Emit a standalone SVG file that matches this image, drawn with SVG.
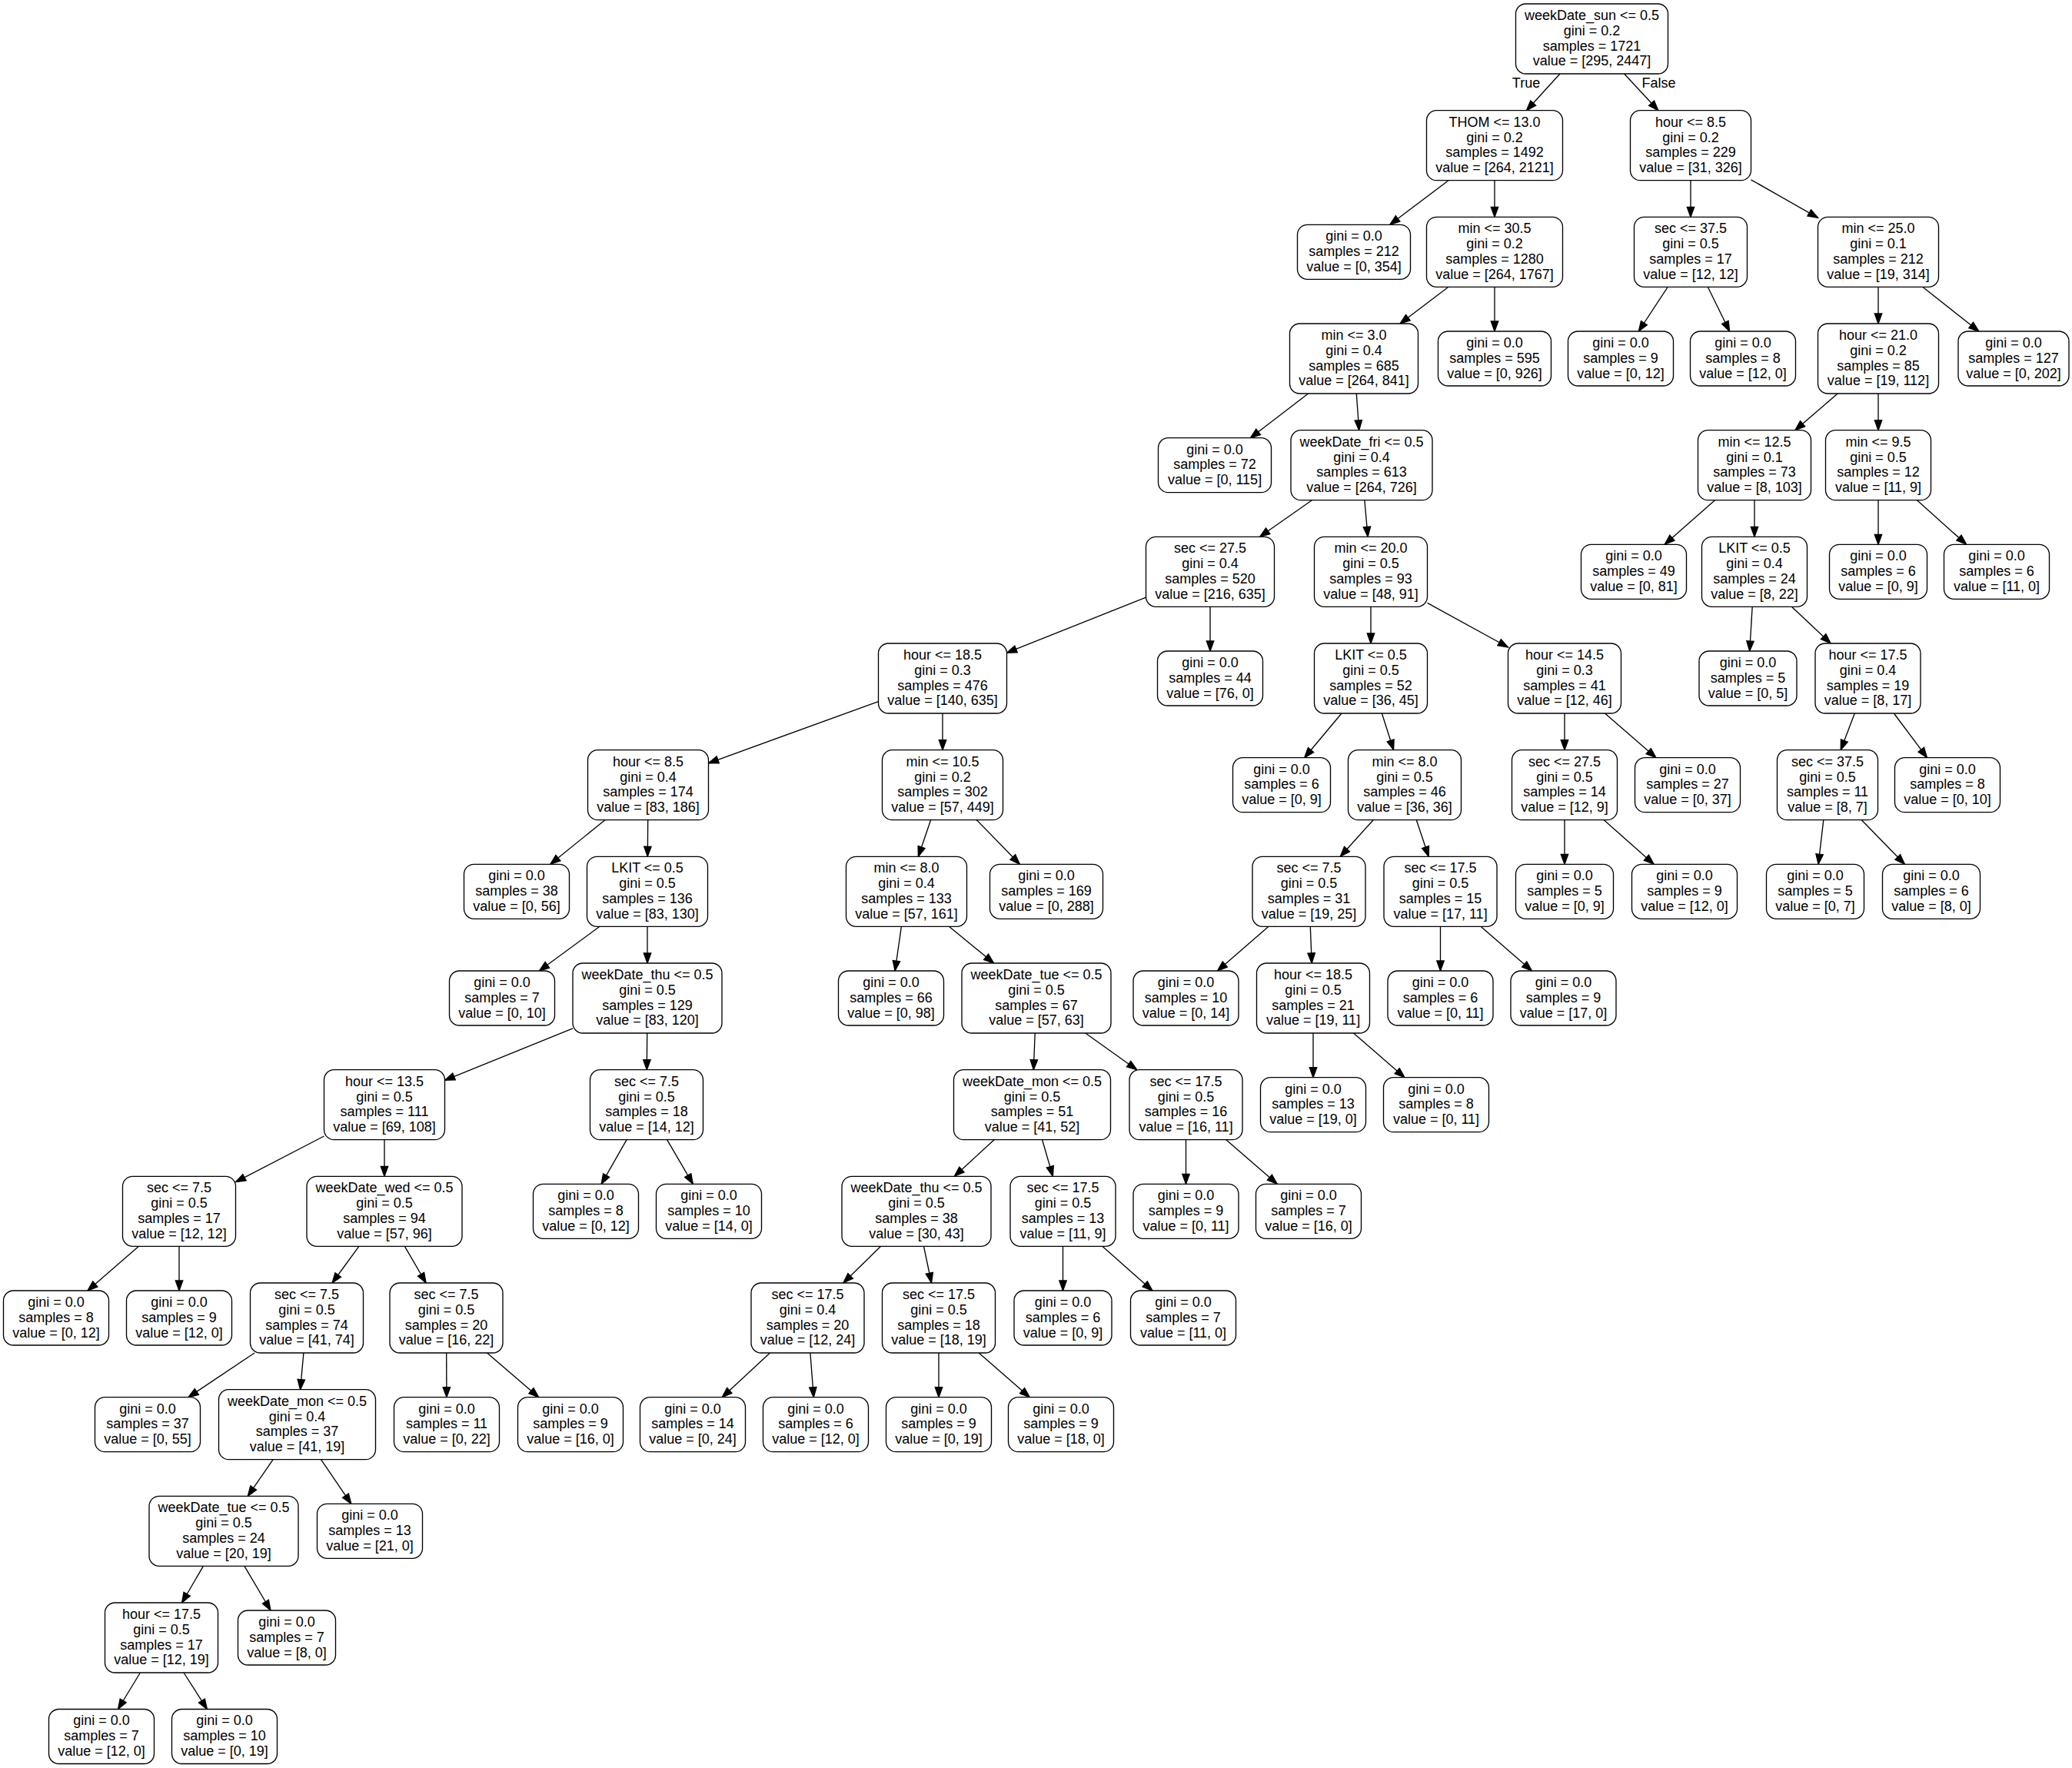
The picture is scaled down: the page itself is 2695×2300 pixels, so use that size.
<svg xmlns="http://www.w3.org/2000/svg" width="2695" height="2300" viewBox="0 0 2695 2300">
<style>
.nd rect{fill:#fff;stroke:#000;stroke-width:1.33;rx:13px;ry:13px}
text{font-family:"Liberation Sans",Arial,Helvetica,sans-serif;font-size:18px;text-anchor:middle;fill:#000}
.e line{stroke:#000;stroke-width:1.33;marker-end:url(#arr)}
</style>
<defs>
<marker id="arr" markerWidth="16" markerHeight="12" refX="14" refY="5.7" orient="auto" markerUnits="userSpaceOnUse">
<path d="M1,1 L14,5.7 L1,10.4 z" fill="#000" stroke="#000" stroke-width="1.33"/>
</marker>
</defs>
<rect width="2695" height="2300" fill="#fff"/>
<g id="edges" class="e">
<line x1="2029" y1="96" x2="1985.5" y2="143.7"/>
<line x1="2112.6" y1="96" x2="2156.9" y2="143.7"/>
<line x1="1884" y1="234.7" x2="1807.8" y2="292.3"/>
<line x1="1944" y1="234.7" x2="1944" y2="282.3"/>
<line x1="2199" y1="234.7" x2="2199" y2="282.3"/>
<line x1="2277.5" y1="233.8" x2="2364.5" y2="283.3"/>
<line x1="1884" y1="373.3" x2="1821" y2="421"/>
<line x1="1944" y1="373.3" x2="1944" y2="431"/>
<line x1="2169.2" y1="373.3" x2="2131.3" y2="431"/>
<line x1="2221.3" y1="373.3" x2="2249.6" y2="431"/>
<line x1="2443" y1="373.3" x2="2443" y2="421"/>
<line x1="2500.7" y1="373.3" x2="2573.9" y2="431"/>
<line x1="1701.6" y1="512" x2="1626.3" y2="569.7"/>
<line x1="1764.3" y1="512" x2="1767.7" y2="559.7"/>
<line x1="2390.2" y1="512" x2="2334.8" y2="559.7"/>
<line x1="2443" y1="512" x2="2443" y2="559.7"/>
<line x1="1706.4" y1="650.7" x2="1638.6" y2="698.3"/>
<line x1="1774.9" y1="650.7" x2="1779.1" y2="698.3"/>
<line x1="2230.5" y1="650.7" x2="2165.2" y2="708.3"/>
<line x1="2282" y1="650.7" x2="2282" y2="698.3"/>
<line x1="2443" y1="650.7" x2="2443" y2="708.3"/>
<line x1="2493.5" y1="650.7" x2="2557.6" y2="708.3"/>
<line x1="1490.5" y1="777.1" x2="1309.5" y2="849.2"/>
<line x1="1574" y1="789.3" x2="1574" y2="847"/>
<line x1="1783" y1="789.3" x2="1783" y2="837"/>
<line x1="1856.5" y1="784.3" x2="1961.5" y2="842"/>
<line x1="2279.2" y1="789.3" x2="2275.7" y2="847"/>
<line x1="2330.4" y1="789.3" x2="2381.1" y2="837"/>
<line x1="1142.5" y1="912.7" x2="921.5" y2="992.8"/>
<line x1="1226" y1="928" x2="1226" y2="975.7"/>
<line x1="1745" y1="928" x2="1696.7" y2="985.7"/>
<line x1="1797.4" y1="928" x2="1812.6" y2="975.7"/>
<line x1="2035" y1="928" x2="2035" y2="975.7"/>
<line x1="2087.5" y1="928" x2="2154" y2="985.7"/>
<line x1="2412.3" y1="928" x2="2394.2" y2="975.7"/>
<line x1="2463.4" y1="928" x2="2506.5" y2="985.7"/>
<line x1="786.9" y1="1066.7" x2="715.8" y2="1124.3"/>
<line x1="842.7" y1="1066.7" x2="842.3" y2="1114.3"/>
<line x1="1210.6" y1="1066.7" x2="1194.4" y2="1114.3"/>
<line x1="1270.3" y1="1066.7" x2="1326.4" y2="1124.3"/>
<line x1="1786.2" y1="1066.7" x2="1743.3" y2="1114.3"/>
<line x1="1842.3" y1="1066.7" x2="1858.2" y2="1114.3"/>
<line x1="2035" y1="1066.7" x2="2035" y2="1124.3"/>
<line x1="2086.2" y1="1066.7" x2="2151.1" y2="1124.3"/>
<line x1="2371.8" y1="1066.7" x2="2365.1" y2="1124.3"/>
<line x1="2421.3" y1="1066.7" x2="2477.4" y2="1124.3"/>
<line x1="780" y1="1205.3" x2="701.4" y2="1263"/>
<line x1="842" y1="1205.3" x2="842" y2="1253"/>
<line x1="1172.4" y1="1205.3" x2="1164.1" y2="1263"/>
<line x1="1234.4" y1="1205.3" x2="1292.6" y2="1253"/>
<line x1="1650" y1="1205.3" x2="1583.5" y2="1263"/>
<line x1="1704.3" y1="1205.3" x2="1706.2" y2="1253"/>
<line x1="1873.5" y1="1205.3" x2="1873.5" y2="1263"/>
<line x1="1926" y1="1205.3" x2="1992.5" y2="1263"/>
<line x1="745" y1="1337.8" x2="578.5" y2="1405.3"/>
<line x1="841.7" y1="1344" x2="841.3" y2="1391.7"/>
<line x1="1346.2" y1="1344" x2="1344.3" y2="1391.7"/>
<line x1="1411.8" y1="1344" x2="1478.7" y2="1391.7"/>
<line x1="1708" y1="1344" x2="1708" y2="1401.7"/>
<line x1="1760.5" y1="1344" x2="1827" y2="1401.7"/>
<line x1="421.5" y1="1478" x2="306.5" y2="1537.7"/>
<line x1="500" y1="1482.7" x2="500" y2="1530.3"/>
<line x1="815.1" y1="1482.7" x2="782.2" y2="1540.3"/>
<line x1="867.6" y1="1482.7" x2="901.3" y2="1540.3"/>
<line x1="1293.1" y1="1482.7" x2="1241.4" y2="1530.3"/>
<line x1="1355.6" y1="1482.7" x2="1369.4" y2="1530.3"/>
<line x1="1542.5" y1="1482.7" x2="1542.5" y2="1540.3"/>
<line x1="1594.8" y1="1482.7" x2="1661.2" y2="1540.3"/>
<line x1="180.5" y1="1621.3" x2="114" y2="1679"/>
<line x1="233" y1="1621.3" x2="233" y2="1679"/>
<line x1="466.9" y1="1621.3" x2="432.1" y2="1669"/>
<line x1="526.4" y1="1621.3" x2="554.1" y2="1669"/>
<line x1="1145.6" y1="1621.3" x2="1096.9" y2="1669"/>
<line x1="1201.5" y1="1621.3" x2="1211.5" y2="1669"/>
<line x1="1382.5" y1="1621.3" x2="1382.5" y2="1679"/>
<line x1="1433.8" y1="1621.3" x2="1498.9" y2="1679"/>
<line x1="331.1" y1="1760" x2="245" y2="1817.7"/>
<line x1="394.9" y1="1760" x2="390.6" y2="1807.7"/>
<line x1="580.7" y1="1760" x2="580.9" y2="1817.7"/>
<line x1="633.5" y1="1760" x2="700.7" y2="1817.7"/>
<line x1="1001.5" y1="1760" x2="939.3" y2="1817.7"/>
<line x1="1053.9" y1="1760" x2="1058.3" y2="1817.7"/>
<line x1="1221" y1="1760" x2="1221" y2="1817.7"/>
<line x1="1273.2" y1="1760" x2="1339.3" y2="1817.7"/>
<line x1="355.2" y1="1898.7" x2="322.3" y2="1946.3"/>
<line x1="417.5" y1="1898.7" x2="456.8" y2="1956.3"/>
<line x1="264.4" y1="2037.3" x2="236.6" y2="2085"/>
<line x1="317.9" y1="2037.3" x2="352" y2="2095"/>
<line x1="182.4" y1="2176" x2="153.5" y2="2223.5"/>
<line x1="239" y1="2176" x2="269.4" y2="2223.5"/>
<text x="1985" y="114">True</text>
<text x="2157.5" y="114">False</text>
</g>
<g class="nd">
<g id="n0" transform="translate(2070.5,50.5)"><rect x="-99" y="-45.5" width="198" height="91"/><text y="-24.5">weekDate_sun &lt;= 0.5</text><text y="-4.7">gini = 0.2</text><text y="15.1">samples = 1721</text><text y="34.9">value = [295, 2447]</text></g>
<g id="n1" transform="translate(1944,189.2)"><rect x="-88.5" y="-45.5" width="177" height="91"/><text y="-24.5">THOM &lt;= 13.0</text><text y="-4.7">gini = 0.2</text><text y="15.1">samples = 1492</text><text y="34.9">value = [264, 2121]</text></g>
<g id="n2" transform="translate(2199,189.2)"><rect x="-78.5" y="-45.5" width="157" height="91"/><text y="-24.5">hour &lt;= 8.5</text><text y="-4.7">gini = 0.2</text><text y="15.1">samples = 229</text><text y="34.9">value = [31, 326]</text></g>
<g id="n3" transform="translate(1761,327.8)"><rect x="-73.5" y="-35.5" width="147" height="71"/><text y="-14.6">gini = 0.0</text><text y="5.2">samples = 212</text><text y="25">value = [0, 354]</text></g>
<g id="n4" transform="translate(1944,327.8)"><rect x="-88.5" y="-45.5" width="177" height="91"/><text y="-24.5">min &lt;= 30.5</text><text y="-4.7">gini = 0.2</text><text y="15.1">samples = 1280</text><text y="34.9">value = [264, 1767]</text></g>
<g id="n5" transform="translate(2199,327.8)"><rect x="-73.5" y="-45.5" width="147" height="91"/><text y="-24.5">sec &lt;= 37.5</text><text y="-4.7">gini = 0.5</text><text y="15.1">samples = 17</text><text y="34.9">value = [12, 12]</text></g>
<g id="n6" transform="translate(2443,327.8)"><rect x="-78.5" y="-45.5" width="157" height="91"/><text y="-24.5">min &lt;= 25.0</text><text y="-4.7">gini = 0.1</text><text y="15.1">samples = 212</text><text y="34.9">value = [19, 314]</text></g>
<g id="n7" transform="translate(1761,466.5)"><rect x="-83.5" y="-45.5" width="167" height="91"/><text y="-24.5">min &lt;= 3.0</text><text y="-4.7">gini = 0.4</text><text y="15.1">samples = 685</text><text y="34.9">value = [264, 841]</text></g>
<g id="n8" transform="translate(1944,466.5)"><rect x="-73.5" y="-35.5" width="147" height="71"/><text y="-14.6">gini = 0.0</text><text y="5.2">samples = 595</text><text y="25">value = [0, 926]</text></g>
<g id="n9" transform="translate(2108,466.5)"><rect x="-68.5" y="-35.5" width="137" height="71"/><text y="-14.6">gini = 0.0</text><text y="5.2">samples = 9</text><text y="25">value = [0, 12]</text></g>
<g id="n10" transform="translate(2267,466.5)"><rect x="-68.5" y="-35.5" width="137" height="71"/><text y="-14.6">gini = 0.0</text><text y="5.2">samples = 8</text><text y="25">value = [12, 0]</text></g>
<g id="n11" transform="translate(2443,466.5)"><rect x="-78.5" y="-45.5" width="157" height="91"/><text y="-24.5">hour &lt;= 21.0</text><text y="-4.7">gini = 0.2</text><text y="15.1">samples = 85</text><text y="34.9">value = [19, 112]</text></g>
<g id="n12" transform="translate(2619,466.5)"><rect x="-72" y="-35.5" width="144" height="71"/><text y="-14.6">gini = 0.0</text><text y="5.2">samples = 127</text><text y="25">value = [0, 202]</text></g>
<g id="n13" transform="translate(1580,605.2)"><rect x="-73.5" y="-35.5" width="147" height="71"/><text y="-14.6">gini = 0.0</text><text y="5.2">samples = 72</text><text y="25">value = [0, 115]</text></g>
<g id="n14" transform="translate(1771,605.2)"><rect x="-92" y="-45.5" width="184" height="91"/><text y="-24.5">weekDate_fri &lt;= 0.5</text><text y="-4.7">gini = 0.4</text><text y="15.1">samples = 613</text><text y="34.9">value = [264, 726]</text></g>
<g id="n15" transform="translate(2282,605.2)"><rect x="-73.5" y="-45.5" width="147" height="91"/><text y="-24.5">min &lt;= 12.5</text><text y="-4.7">gini = 0.1</text><text y="15.1">samples = 73</text><text y="34.9">value = [8, 103]</text></g>
<g id="n16" transform="translate(2443,605.2)"><rect x="-68.5" y="-45.5" width="137" height="91"/><text y="-24.5">min &lt;= 9.5</text><text y="-4.7">gini = 0.5</text><text y="15.1">samples = 12</text><text y="34.9">value = [11, 9]</text></g>
<g id="n17" transform="translate(1574,743.8)"><rect x="-83.5" y="-45.5" width="167" height="91"/><text y="-24.5">sec &lt;= 27.5</text><text y="-4.7">gini = 0.4</text><text y="15.1">samples = 520</text><text y="34.9">value = [216, 635]</text></g>
<g id="n18" transform="translate(1783,743.8)"><rect x="-73.5" y="-45.5" width="147" height="91"/><text y="-24.5">min &lt;= 20.0</text><text y="-4.7">gini = 0.5</text><text y="15.1">samples = 93</text><text y="34.9">value = [48, 91]</text></g>
<g id="n19" transform="translate(2125,743.8)"><rect x="-68.5" y="-35.5" width="137" height="71"/><text y="-14.6">gini = 0.0</text><text y="5.2">samples = 49</text><text y="25">value = [0, 81]</text></g>
<g id="n20" transform="translate(2282,743.8)"><rect x="-68.5" y="-45.5" width="137" height="91"/><text y="-24.5">LKIT &lt;= 0.5</text><text y="-4.7">gini = 0.4</text><text y="15.1">samples = 24</text><text y="34.9">value = [8, 22]</text></g>
<g id="n21" transform="translate(2443,743.8)"><rect x="-63.5" y="-35.5" width="127" height="71"/><text y="-14.6">gini = 0.0</text><text y="5.2">samples = 6</text><text y="25">value = [0, 9]</text></g>
<g id="n22" transform="translate(2597,743.8)"><rect x="-68.5" y="-35.5" width="137" height="71"/><text y="-14.6">gini = 0.0</text><text y="5.2">samples = 6</text><text y="25">value = [11, 0]</text></g>
<g id="n23" transform="translate(1226,882.5)"><rect x="-83.5" y="-45.5" width="167" height="91"/><text y="-24.5">hour &lt;= 18.5</text><text y="-4.7">gini = 0.3</text><text y="15.1">samples = 476</text><text y="34.9">value = [140, 635]</text></g>
<g id="n24" transform="translate(1574,882.5)"><rect x="-68.5" y="-35.5" width="137" height="71"/><text y="-14.6">gini = 0.0</text><text y="5.2">samples = 44</text><text y="25">value = [76, 0]</text></g>
<g id="n25" transform="translate(1783,882.5)"><rect x="-73.5" y="-45.5" width="147" height="91"/><text y="-24.5">LKIT &lt;= 0.5</text><text y="-4.7">gini = 0.5</text><text y="15.1">samples = 52</text><text y="34.9">value = [36, 45]</text></g>
<g id="n26" transform="translate(2035,882.5)"><rect x="-73.5" y="-45.5" width="147" height="91"/><text y="-24.5">hour &lt;= 14.5</text><text y="-4.7">gini = 0.3</text><text y="15.1">samples = 41</text><text y="34.9">value = [12, 46]</text></g>
<g id="n27" transform="translate(2273.5,882.5)"><rect x="-63.5" y="-35.5" width="127" height="71"/><text y="-14.6">gini = 0.0</text><text y="5.2">samples = 5</text><text y="25">value = [0, 5]</text></g>
<g id="n28" transform="translate(2429.5,882.5)"><rect x="-68.5" y="-45.5" width="137" height="91"/><text y="-24.5">hour &lt;= 17.5</text><text y="-4.7">gini = 0.4</text><text y="15.1">samples = 19</text><text y="34.9">value = [8, 17]</text></g>
<g id="n29" transform="translate(843,1021.2)"><rect x="-78.5" y="-45.5" width="157" height="91"/><text y="-24.5">hour &lt;= 8.5</text><text y="-4.7">gini = 0.4</text><text y="15.1">samples = 174</text><text y="34.9">value = [83, 186]</text></g>
<g id="n30" transform="translate(1226,1021.2)"><rect x="-78.5" y="-45.5" width="157" height="91"/><text y="-24.5">min &lt;= 10.5</text><text y="-4.7">gini = 0.2</text><text y="15.1">samples = 302</text><text y="34.9">value = [57, 449]</text></g>
<g id="n31" transform="translate(1667,1021.2)"><rect x="-63.5" y="-35.5" width="127" height="71"/><text y="-14.6">gini = 0.0</text><text y="5.2">samples = 6</text><text y="25">value = [0, 9]</text></g>
<g id="n32" transform="translate(1827,1021.2)"><rect x="-73.5" y="-45.5" width="147" height="91"/><text y="-24.5">min &lt;= 8.0</text><text y="-4.7">gini = 0.5</text><text y="15.1">samples = 46</text><text y="34.9">value = [36, 36]</text></g>
<g id="n33" transform="translate(2035,1021.2)"><rect x="-68.5" y="-45.5" width="137" height="91"/><text y="-24.5">sec &lt;= 27.5</text><text y="-4.7">gini = 0.5</text><text y="15.1">samples = 14</text><text y="34.9">value = [12, 9]</text></g>
<g id="n34" transform="translate(2195,1021.2)"><rect x="-68.5" y="-35.5" width="137" height="71"/><text y="-14.6">gini = 0.0</text><text y="5.2">samples = 27</text><text y="25">value = [0, 37]</text></g>
<g id="n35" transform="translate(2377,1021.2)"><rect x="-65.5" y="-45.5" width="131" height="91"/><text y="-24.5">sec &lt;= 37.5</text><text y="-4.7">gini = 0.5</text><text y="15.1">samples = 11</text><text y="34.9">value = [8, 7]</text></g>
<g id="n36" transform="translate(2533,1021.2)"><rect x="-68.5" y="-35.5" width="137" height="71"/><text y="-14.6">gini = 0.0</text><text y="5.2">samples = 8</text><text y="25">value = [0, 10]</text></g>
<g id="n37" transform="translate(672,1159.8)"><rect x="-68.5" y="-35.5" width="137" height="71"/><text y="-14.6">gini = 0.0</text><text y="5.2">samples = 38</text><text y="25">value = [0, 56]</text></g>
<g id="n38" transform="translate(842,1159.8)"><rect x="-78.5" y="-45.5" width="157" height="91"/><text y="-24.5">LKIT &lt;= 0.5</text><text y="-4.7">gini = 0.5</text><text y="15.1">samples = 136</text><text y="34.9">value = [83, 130]</text></g>
<g id="n39" transform="translate(1179,1159.8)"><rect x="-78.5" y="-45.5" width="157" height="91"/><text y="-24.5">min &lt;= 8.0</text><text y="-4.7">gini = 0.4</text><text y="15.1">samples = 133</text><text y="34.9">value = [57, 161]</text></g>
<g id="n40" transform="translate(1361,1159.8)"><rect x="-73.5" y="-35.5" width="147" height="71"/><text y="-14.6">gini = 0.0</text><text y="5.2">samples = 169</text><text y="25">value = [0, 288]</text></g>
<g id="n41" transform="translate(1702.5,1159.8)"><rect x="-73.5" y="-45.5" width="147" height="91"/><text y="-24.5">sec &lt;= 7.5</text><text y="-4.7">gini = 0.5</text><text y="15.1">samples = 31</text><text y="34.9">value = [19, 25]</text></g>
<g id="n42" transform="translate(1873.5,1159.8)"><rect x="-73.5" y="-45.5" width="147" height="91"/><text y="-24.5">sec &lt;= 17.5</text><text y="-4.7">gini = 0.5</text><text y="15.1">samples = 15</text><text y="34.9">value = [17, 11]</text></g>
<g id="n43" transform="translate(2035,1159.8)"><rect x="-63.5" y="-35.5" width="127" height="71"/><text y="-14.6">gini = 0.0</text><text y="5.2">samples = 5</text><text y="25">value = [0, 9]</text></g>
<g id="n44" transform="translate(2191,1159.8)"><rect x="-68.5" y="-35.5" width="137" height="71"/><text y="-14.6">gini = 0.0</text><text y="5.2">samples = 9</text><text y="25">value = [12, 0]</text></g>
<g id="n45" transform="translate(2361,1159.8)"><rect x="-63.5" y="-35.5" width="127" height="71"/><text y="-14.6">gini = 0.0</text><text y="5.2">samples = 5</text><text y="25">value = [0, 7]</text></g>
<g id="n46" transform="translate(2512,1159.8)"><rect x="-63.5" y="-35.5" width="127" height="71"/><text y="-14.6">gini = 0.0</text><text y="5.2">samples = 6</text><text y="25">value = [8, 0]</text></g>
<g id="n47" transform="translate(653,1298.5)"><rect x="-68.5" y="-35.5" width="137" height="71"/><text y="-14.6">gini = 0.0</text><text y="5.2">samples = 7</text><text y="25">value = [0, 10]</text></g>
<g id="n48" transform="translate(842,1298.5)"><rect x="-97" y="-45.5" width="194" height="91"/><text y="-24.5">weekDate_thu &lt;= 0.5</text><text y="-4.7">gini = 0.5</text><text y="15.1">samples = 129</text><text y="34.9">value = [83, 120]</text></g>
<g id="n49" transform="translate(1159,1298.5)"><rect x="-68.5" y="-35.5" width="137" height="71"/><text y="-14.6">gini = 0.0</text><text y="5.2">samples = 66</text><text y="25">value = [0, 98]</text></g>
<g id="n50" transform="translate(1348,1298.5)"><rect x="-97" y="-45.5" width="194" height="91"/><text y="-24.5">weekDate_tue &lt;= 0.5</text><text y="-4.7">gini = 0.5</text><text y="15.1">samples = 67</text><text y="34.9">value = [57, 63]</text></g>
<g id="n51" transform="translate(1542.5,1298.5)"><rect x="-68.5" y="-35.5" width="137" height="71"/><text y="-14.6">gini = 0.0</text><text y="5.2">samples = 10</text><text y="25">value = [0, 14]</text></g>
<g id="n52" transform="translate(1708,1298.5)"><rect x="-73.5" y="-45.5" width="147" height="91"/><text y="-24.5">hour &lt;= 18.5</text><text y="-4.7">gini = 0.5</text><text y="15.1">samples = 21</text><text y="34.9">value = [19, 11]</text></g>
<g id="n53" transform="translate(1873.5,1298.5)"><rect x="-68.5" y="-35.5" width="137" height="71"/><text y="-14.6">gini = 0.0</text><text y="5.2">samples = 6</text><text y="25">value = [0, 11]</text></g>
<g id="n54" transform="translate(2033.5,1298.5)"><rect x="-68.5" y="-35.5" width="137" height="71"/><text y="-14.6">gini = 0.0</text><text y="5.2">samples = 9</text><text y="25">value = [17, 0]</text></g>
<g id="n55" transform="translate(500,1437.2)"><rect x="-78.5" y="-45.5" width="157" height="91"/><text y="-24.5">hour &lt;= 13.5</text><text y="-4.7">gini = 0.5</text><text y="15.1">samples = 111</text><text y="34.9">value = [69, 108]</text></g>
<g id="n56" transform="translate(841,1437.2)"><rect x="-73.5" y="-45.5" width="147" height="91"/><text y="-24.5">sec &lt;= 7.5</text><text y="-4.7">gini = 0.5</text><text y="15.1">samples = 18</text><text y="34.9">value = [14, 12]</text></g>
<g id="n57" transform="translate(1342.5,1437.2)"><rect x="-102" y="-45.5" width="204" height="91"/><text y="-24.5">weekDate_mon &lt;= 0.5</text><text y="-4.7">gini = 0.5</text><text y="15.1">samples = 51</text><text y="34.9">value = [41, 52]</text></g>
<g id="n58" transform="translate(1542.5,1437.2)"><rect x="-73.5" y="-45.5" width="147" height="91"/><text y="-24.5">sec &lt;= 17.5</text><text y="-4.7">gini = 0.5</text><text y="15.1">samples = 16</text><text y="34.9">value = [16, 11]</text></g>
<g id="n59" transform="translate(1708,1437.2)"><rect x="-68.5" y="-35.5" width="137" height="71"/><text y="-14.6">gini = 0.0</text><text y="5.2">samples = 13</text><text y="25">value = [19, 0]</text></g>
<g id="n60" transform="translate(1868,1437.2)"><rect x="-68.5" y="-35.5" width="137" height="71"/><text y="-14.6">gini = 0.0</text><text y="5.2">samples = 8</text><text y="25">value = [0, 11]</text></g>
<g id="n61" transform="translate(233,1575.8)"><rect x="-73.5" y="-45.5" width="147" height="91"/><text y="-24.5">sec &lt;= 7.5</text><text y="-4.7">gini = 0.5</text><text y="15.1">samples = 17</text><text y="34.9">value = [12, 12]</text></g>
<g id="n62" transform="translate(500,1575.8)"><rect x="-101" y="-45.5" width="202" height="91"/><text y="-24.5">weekDate_wed &lt;= 0.5</text><text y="-4.7">gini = 0.5</text><text y="15.1">samples = 94</text><text y="34.9">value = [57, 96]</text></g>
<g id="n63" transform="translate(762,1575.8)"><rect x="-68.5" y="-35.5" width="137" height="71"/><text y="-14.6">gini = 0.0</text><text y="5.2">samples = 8</text><text y="25">value = [0, 12]</text></g>
<g id="n64" transform="translate(922,1575.8)"><rect x="-68.5" y="-35.5" width="137" height="71"/><text y="-14.6">gini = 0.0</text><text y="5.2">samples = 10</text><text y="25">value = [14, 0]</text></g>
<g id="n65" transform="translate(1192,1575.8)"><rect x="-97" y="-45.5" width="194" height="91"/><text y="-24.5">weekDate_thu &lt;= 0.5</text><text y="-4.7">gini = 0.5</text><text y="15.1">samples = 38</text><text y="34.9">value = [30, 43]</text></g>
<g id="n66" transform="translate(1382.5,1575.8)"><rect x="-68.5" y="-45.5" width="137" height="91"/><text y="-24.5">sec &lt;= 17.5</text><text y="-4.7">gini = 0.5</text><text y="15.1">samples = 13</text><text y="34.9">value = [11, 9]</text></g>
<g id="n67" transform="translate(1542.5,1575.8)"><rect x="-68.5" y="-35.5" width="137" height="71"/><text y="-14.6">gini = 0.0</text><text y="5.2">samples = 9</text><text y="25">value = [0, 11]</text></g>
<g id="n68" transform="translate(1702,1575.8)"><rect x="-68.5" y="-35.5" width="137" height="71"/><text y="-14.6">gini = 0.0</text><text y="5.2">samples = 7</text><text y="25">value = [16, 0]</text></g>
<g id="n69" transform="translate(73,1714.5)"><rect x="-68.5" y="-35.5" width="137" height="71"/><text y="-14.6">gini = 0.0</text><text y="5.2">samples = 8</text><text y="25">value = [0, 12]</text></g>
<g id="n70" transform="translate(233,1714.5)"><rect x="-68.5" y="-35.5" width="137" height="71"/><text y="-14.6">gini = 0.0</text><text y="5.2">samples = 9</text><text y="25">value = [12, 0]</text></g>
<g id="n71" transform="translate(399,1714.5)"><rect x="-73.5" y="-45.5" width="147" height="91"/><text y="-24.5">sec &lt;= 7.5</text><text y="-4.7">gini = 0.5</text><text y="15.1">samples = 74</text><text y="34.9">value = [41, 74]</text></g>
<g id="n72" transform="translate(580.5,1714.5)"><rect x="-73.5" y="-45.5" width="147" height="91"/><text y="-24.5">sec &lt;= 7.5</text><text y="-4.7">gini = 0.5</text><text y="15.1">samples = 20</text><text y="34.9">value = [16, 22]</text></g>
<g id="n73" transform="translate(1050.5,1714.5)"><rect x="-73.5" y="-45.5" width="147" height="91"/><text y="-24.5">sec &lt;= 17.5</text><text y="-4.7">gini = 0.4</text><text y="15.1">samples = 20</text><text y="34.9">value = [12, 24]</text></g>
<g id="n74" transform="translate(1221,1714.5)"><rect x="-73.5" y="-45.5" width="147" height="91"/><text y="-24.5">sec &lt;= 17.5</text><text y="-4.7">gini = 0.5</text><text y="15.1">samples = 18</text><text y="34.9">value = [18, 19]</text></g>
<g id="n75" transform="translate(1382.5,1714.5)"><rect x="-63.5" y="-35.5" width="127" height="71"/><text y="-14.6">gini = 0.0</text><text y="5.2">samples = 6</text><text y="25">value = [0, 9]</text></g>
<g id="n76" transform="translate(1539,1714.5)"><rect x="-68.5" y="-35.5" width="137" height="71"/><text y="-14.6">gini = 0.0</text><text y="5.2">samples = 7</text><text y="25">value = [11, 0]</text></g>
<g id="n77" transform="translate(192,1853.2)"><rect x="-68.5" y="-35.5" width="137" height="71"/><text y="-14.6">gini = 0.0</text><text y="5.2">samples = 37</text><text y="25">value = [0, 55]</text></g>
<g id="n78" transform="translate(386.5,1853.2)"><rect x="-102" y="-45.5" width="204" height="91"/><text y="-24.5">weekDate_mon &lt;= 0.5</text><text y="-4.7">gini = 0.4</text><text y="15.1">samples = 37</text><text y="34.9">value = [41, 19]</text></g>
<g id="n79" transform="translate(581,1853.2)"><rect x="-68.5" y="-35.5" width="137" height="71"/><text y="-14.6">gini = 0.0</text><text y="5.2">samples = 11</text><text y="25">value = [0, 22]</text></g>
<g id="n80" transform="translate(742,1853.2)"><rect x="-68.5" y="-35.5" width="137" height="71"/><text y="-14.6">gini = 0.0</text><text y="5.2">samples = 9</text><text y="25">value = [16, 0]</text></g>
<g id="n81" transform="translate(901,1853.2)"><rect x="-68.5" y="-35.5" width="137" height="71"/><text y="-14.6">gini = 0.0</text><text y="5.2">samples = 14</text><text y="25">value = [0, 24]</text></g>
<g id="n82" transform="translate(1061,1853.2)"><rect x="-68.5" y="-35.5" width="137" height="71"/><text y="-14.6">gini = 0.0</text><text y="5.2">samples = 6</text><text y="25">value = [12, 0]</text></g>
<g id="n83" transform="translate(1221,1853.2)"><rect x="-68.5" y="-35.5" width="137" height="71"/><text y="-14.6">gini = 0.0</text><text y="5.2">samples = 9</text><text y="25">value = [0, 19]</text></g>
<g id="n84" transform="translate(1380,1853.2)"><rect x="-68.5" y="-35.5" width="137" height="71"/><text y="-14.6">gini = 0.0</text><text y="5.2">samples = 9</text><text y="25">value = [18, 0]</text></g>
<g id="n85" transform="translate(291,1991.8)"><rect x="-97" y="-45.5" width="194" height="91"/><text y="-24.5">weekDate_tue &lt;= 0.5</text><text y="-4.7">gini = 0.5</text><text y="15.1">samples = 24</text><text y="34.9">value = [20, 19]</text></g>
<g id="n86" transform="translate(481,1991.8)"><rect x="-68.5" y="-35.5" width="137" height="71"/><text y="-14.6">gini = 0.0</text><text y="5.2">samples = 13</text><text y="25">value = [21, 0]</text></g>
<g id="n87" transform="translate(210,2130.5)"><rect x="-73.5" y="-45.5" width="147" height="91"/><text y="-24.5">hour &lt;= 17.5</text><text y="-4.7">gini = 0.5</text><text y="15.1">samples = 17</text><text y="34.9">value = [12, 19]</text></g>
<g id="n88" transform="translate(373,2130.5)"><rect x="-63.5" y="-35.5" width="127" height="71"/><text y="-14.6">gini = 0.0</text><text y="5.2">samples = 7</text><text y="25">value = [8, 0]</text></g>
<g id="n89" transform="translate(132,2259)"><rect x="-68.5" y="-35.5" width="137" height="71"/><text y="-14.6">gini = 0.0</text><text y="5.2">samples = 7</text><text y="25">value = [12, 0]</text></g>
<g id="n90" transform="translate(292,2259)"><rect x="-68.5" y="-35.5" width="137" height="71"/><text y="-14.6">gini = 0.0</text><text y="5.2">samples = 10</text><text y="25">value = [0, 19]</text></g>
</g>
</svg>
